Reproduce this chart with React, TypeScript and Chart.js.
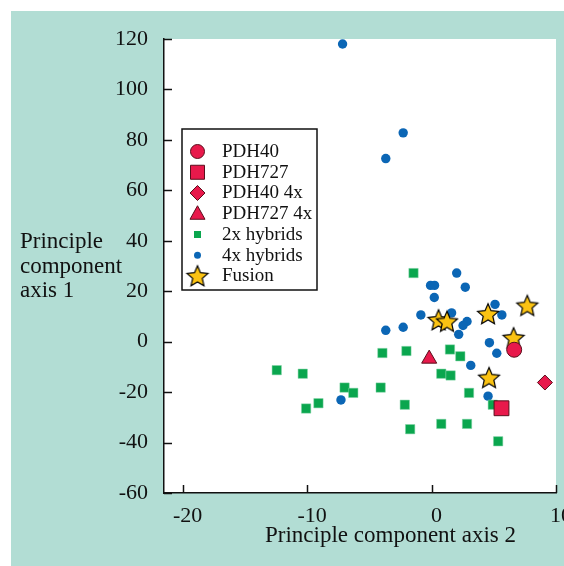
import React, { useEffect, useRef } from 'react';
import { Chart, registerables } from 'chart.js';

Chart.register(...registerables);

// ---- data ----
const xTickValues = [-20, -10, 0, 10];
const yTickValues = [-60, -40, -20, 0, 20, 40, 60, 80, 100, 120];

const pdh40 = [{ x: 6.64, y: -3.2 }];
const pdh727 = [{ x: 5.62, y: -26.4 }];
const pdh40_4x = [{ x: 9.11, y: -16.2 }];
const pdh727_4x = [{ x: -0.19, y: -6.8 }];

const hybrids2x = [
  { x: -1.45, y: 27.2 }, { x: -3.95, y: -4.5 }, { x: -2.02, y: -3.7 }, { x: 1.48, y: -3.1 },
  { x: 2.31, y: -5.8 }, { x: -12.44, y: -11.3 }, { x: -10.35, y: -12.7 }, { x: 0.78, y: -12.7 },
  { x: 1.53, y: -13.4 }, { x: -6.99, y: -18.2 }, { x: -6.29, y: -20.3 }, { x: -4.09, y: -18.2 },
  { x: 3.01, y: -20.3 }, { x: -10.08, y: -26.5 }, { x: -9.09, y: -24.4 }, { x: -2.15, y: -25.0 },
  { x: 4.92, y: -25.0 }, { x: 0.78, y: -32.6 }, { x: 2.85, y: -32.6 }, { x: -1.72, y: -34.7 },
  { x: 5.35, y: -39.5 },
];

const hybrids4x = [
  { x: -7.15, y: 118.0 }, { x: -2.28, y: 82.8 }, { x: -3.68, y: 72.6 }, { x: 2.02, y: 27.2 },
  { x: -0.08, y: 22.3 }, { x: 0.24, y: 22.3 }, { x: 2.71, y: 21.6 }, { x: 0.22, y: 17.5 },
  { x: 5.1, y: 14.8 }, { x: 5.65, y: 10.6 }, { x: -0.86, y: 10.6 }, { x: 1.61, y: 11.4 },
  { x: -3.68, y: 4.5 }, { x: -2.28, y: 5.7 }, { x: 2.85, y: 8.0 }, { x: 2.53, y: 6.4 },
  { x: 2.18, y: 2.9 }, { x: 4.65, y: -0.4 }, { x: 5.24, y: -4.6 }, { x: 3.15, y: -9.4 },
  { x: 4.54, y: -21.6 }, { x: -7.28, y: -23.1 },
];

const fusion = [
  { x: 0.56, y: 8.6 }, { x: 1.24, y: 8.0 }, { x: 4.54, y: 11.0 },
  { x: 7.69, y: 14.3 }, { x: 6.59, y: 1.5 }, { x: 4.62, y: -14.3 },
];

const legendLabels = ['PDH40', 'PDH727', 'PDH40 4x', 'PDH727 4x', '2x hybrids', '4x hybrids', 'Fusion'];

// ---- styles ----
const TEAL = '#b2ddd4';
const RED = '#e8194b';
const RED_BORDER = '#5a0f1c';
const GREEN = '#0aa64e';
const BLUE = '#0b66b5';
const GOLD = '#fbc313';
const FONT = "'Liberation Serif', 'DejaVu Serif', serif";
const TEXT = '#111';

function makeStar(size: number, R: number): HTMLCanvasElement {
  const c = document.createElement('canvas');
  c.width = size;
  c.height = size;
  const g = c.getContext('2d')!;
  const cx = size / 2, cy = size / 2 + 0.8;
  const r = R * 0.46;
  g.beginPath();
  for (let i = 0; i < 10; i++) {
    const rad = -Math.PI / 2 + (i * Math.PI) / 5;
    const rr = i % 2 === 0 ? R : r;
    const px = cx + Math.cos(rad) * rr;
    const py = cy + Math.sin(rad) * rr;
    if (i === 0) g.moveTo(px, py); else g.lineTo(px, py);
  }
  g.closePath();
  g.fillStyle = GOLD;
  g.fill();
  g.lineWidth = 1.2;
  g.lineJoin = 'miter';
  g.strokeStyle = '#000';
  g.stroke();
  return c;
}

export default function App() {
  const ref = useRef<HTMLCanvasElement | null>(null);

  useEffect(() => {
    if (!ref.current) return;
    const star = makeStar(26, 11);

    const background = {
      id: 'bg',
      beforeDraw(chart: any) {
        const { ctx, chartArea } = chart;
        ctx.save();
        ctx.fillStyle = '#ffffff';
        ctx.fillRect(0, 0, chart.width, chart.height);
        ctx.fillStyle = TEAL;
        ctx.fillRect(11, 11, chart.width - 11, chart.height - 11);
        ctx.fillStyle = '#ffffff';
        ctx.fillRect(chartArea.left, chartArea.top, chartArea.right - chartArea.left, chartArea.bottom - chartArea.top);
        ctx.restore();
      },
    };

    const decorations = {
      id: 'decor',
      afterDraw(chart: any) {
        const { ctx, chartArea, scales } = chart;
        ctx.save();
        // inward tick marks
        ctx.strokeStyle = TEXT;
        ctx.lineWidth = 1.5;
        scales.y.ticks.forEach((t: any) => {
          const py = Math.round(scales.y.getPixelForValue(t.value)) + 0.5;
          ctx.beginPath();
          ctx.moveTo(chartArea.left, py);
          ctx.lineTo(chartArea.left + 8, py);
          ctx.stroke();
        });
        scales.x.ticks.forEach((t: any) => {
          const px = Math.round(scales.x.getPixelForValue(t.value)) + 0.5;
          ctx.beginPath();
          ctx.moveTo(px, chartArea.bottom);
          ctx.lineTo(px, chartArea.bottom - 8);
          ctx.stroke();
        });

        // axis titles
        ctx.fillStyle = TEXT;
        ctx.font = `23px ${FONT}`;
        ctx.textAlign = 'left';
        ctx.textBaseline = 'alphabetic';
        ctx.fillText('Principle component axis 2', 265, 542);
        ctx.fillText('Principle', 20, 248);
        ctx.fillText('component', 20, 272.5);
        ctx.fillText('axis 1', 20, 297);

        // legend box
        const bx = 182, by = 129, bw = 135, bh = 161;
        ctx.fillStyle = '#ffffff';
        ctx.fillRect(bx, by, bw, bh);
        ctx.strokeStyle = '#111';
        ctx.lineWidth = 1.5;
        ctx.strokeRect(bx, by, bw, bh);

        const sx = 197.5, tx = 222, y0 = 151.5, step = 20.75;
        legendLabels.forEach((label, i) => {
          const cy = y0 + i * step;
          ctx.save();
          ctx.lineWidth = 1;
          ctx.strokeStyle = RED_BORDER;
          ctx.fillStyle = RED;
          ctx.beginPath();
          if (i === 0) {
            ctx.arc(sx, cy, 7, 0, Math.PI * 2);
            ctx.fill(); ctx.stroke();
          } else if (i === 1) {
            ctx.rect(sx - 7, cy - 7, 14, 14);
            ctx.fill(); ctx.stroke();
          } else if (i === 2) {
            ctx.moveTo(sx, cy - 7.5); ctx.lineTo(sx + 7.5, cy); ctx.lineTo(sx, cy + 7.5); ctx.lineTo(sx - 7.5, cy);
            ctx.closePath(); ctx.fill(); ctx.stroke();
          } else if (i === 3) {
            ctx.moveTo(sx, cy - 8); ctx.lineTo(sx + 7.5, cy + 5.5); ctx.lineTo(sx - 7.5, cy + 5.5);
            ctx.closePath(); ctx.fill(); ctx.stroke();
          } else if (i === 4) {
            ctx.fillStyle = GREEN;
            ctx.fillRect(sx - 3.5, cy - 3.5, 7, 7);
          } else if (i === 5) {
            ctx.fillStyle = BLUE;
            ctx.arc(sx, cy, 3.5, 0, Math.PI * 2);
            ctx.fill();
          } else {
            ctx.drawImage(star, sx - 13, cy - 13, 26, 26);
          }
          ctx.restore();
          ctx.fillStyle = TEXT;
          ctx.font = `19px ${FONT}`;
          ctx.textBaseline = 'middle';
          ctx.textAlign = 'left';
          ctx.fillText(label, tx, cy + 0.5);
        });
        ctx.restore();
      },
    };

    const chart = new Chart(ref.current, {
      type: 'scatter',
      data: {
        datasets: [
          { label: '4x hybrids', data: hybrids4x, pointStyle: 'circle', pointRadius: 4.7, backgroundColor: BLUE, borderWidth: 0, order: 7 },
          { label: '2x hybrids', data: hybrids2x, pointStyle: 'rect', pointRadius: 6.6, backgroundColor: GREEN, borderColor: '#7fd3a4', borderWidth: 0.5, order: 6 },
          { label: 'Fusion', data: fusion, pointStyle: star as any, pointRadius: 11, order: 5 },
          { label: 'PDH727 4x', data: pdh727_4x, pointStyle: 'triangle', pointRadius: 8.7, backgroundColor: RED, borderColor: RED_BORDER, borderWidth: 1, order: 4 },
          { label: 'PDH40 4x', data: pdh40_4x, pointStyle: 'rectRot', pointRadius: 7.5, backgroundColor: RED, borderColor: RED_BORDER, borderWidth: 1, order: 3 },
          { label: 'PDH727', data: pdh727, pointStyle: 'rect', pointRadius: 10.5, backgroundColor: RED, borderColor: RED_BORDER, borderWidth: 1, order: 2 },
          { label: 'PDH40', data: pdh40, pointStyle: 'circle', pointRadius: 7.5, backgroundColor: RED, borderColor: RED_BORDER, borderWidth: 1, order: 1 },
        ],
      },
      options: {
        responsive: false,
        animation: false,
        layout: { padding: { left: 0, top: 39, right: 44, bottom: 0 } },
        plugins: { legend: { display: false }, tooltip: { enabled: false }, title: { display: false } },
        scales: {
          x: {
            type: 'linear',
            min: -21.5,
            max: 10,
            afterBuildTicks: (scale: any) => { scale.ticks = xTickValues.map((v) => ({ value: v })); },
            afterFit: (scale: any) => { scale.height = 73; },
            ticks: {
              includeBounds: false,
              padding: 10,
              labelOffset: 5,
              color: TEXT,
              font: { family: FONT, size: 22 },
              maxRotation: 0,
              autoSkip: false,
            },
            grid: { display: false, drawTicks: false },
            border: { display: true, color: TEXT, width: 1.5 },
          },
          y: {
            type: 'linear',
            min: -60,
            max: 120,
            afterBuildTicks: (scale: any) => { scale.ticks = yTickValues.map((v) => ({ value: v })); },
            afterFit: (scale: any) => { scale.width = 164; },
            ticks: {
              includeBounds: false,
              padding: 16,
              color: TEXT,
              font: { family: FONT, size: 22 },
              autoSkip: false,
            },
            grid: { display: false, drawTicks: false },
            border: { display: true, color: TEXT, width: 1.5 },
          },
        },
      },
      plugins: [background, decorations],
    } as any);

    return () => chart.destroy();
  }, []);

  return (
    <div style={{ position: 'fixed', left: 0, top: 0, width: 564, height: 566, overflow: 'hidden', background: '#fff' }}>
      <canvas ref={ref} width={600} height={566} style={{ display: 'block' }} />
    </div>
  );
}
